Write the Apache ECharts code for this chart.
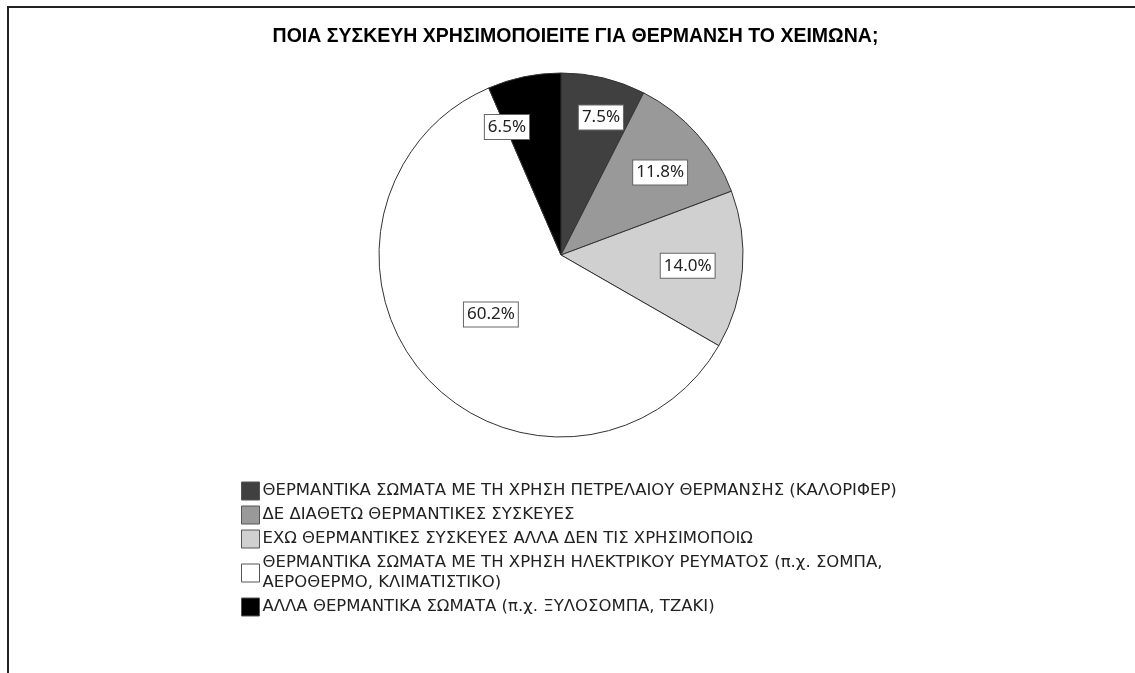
<!DOCTYPE html>
<html>
<head>
<meta charset="utf-8">
<script src="https://cdn.jsdelivr.net/npm/echarts@6/dist/echarts.min.js"></script>
<style>html,body{margin:0;padding:0;background:#fff;}#chart{width:1135px;height:673px;}</style>
</head>
<body>
<div id="chart"></div>
<script>
var titleText = 'ΠΟΙΑ ΣΥΣΚΕΥΗ ΧΡΗΣΙΜΟΠΟΙΕΙΤΕ ΓΙΑ ΘΕΡΜΑΝΣΗ ΤΟ ΧΕΙΜΩΝΑ;';
var categories = [
  'ΘΕΡΜΑΝΤΙΚΑ ΣΩΜΑΤΑ ΜΕ ΤΗ ΧΡΗΣΗ ΠΕΤΡΕΛΑΙΟΥ ΘΕΡΜΑΝΣΗΣ (ΚΑΛΟΡΙΦΕΡ)',
  'ΔΕ ΔΙΑΘΕΤΩ ΘΕΡΜΑΝΤΙΚΕΣ ΣΥΣΚΕΥΕΣ',
  'ΕΧΩ ΘΕΡΜΑΝΤΙΚΕΣ ΣΥΣΚΕΥΕΣ ΑΛΛΑ ΔΕΝ ΤΙΣ ΧΡΗΣΙΜΟΠΟΙΩ',
  'ΘΕΡΜΑΝΤΙΚΑ ΣΩΜΑΤΑ ΜΕ ΤΗ ΧΡΗΣΗ ΗΛΕΚΤΡΙΚΟΥ ΡΕΥΜΑΤΟΣ (π.χ. ΣΟΜΠΑ,\nΑΕΡΟΘΕΡΜΟ, ΚΛΙΜΑΤΙΣΤΙΚΟ)',
  'ΑΛΛΑ ΘΕΡΜΑΝΤΙΚΑ ΣΩΜΑΤΑ (π.χ. ΞΥΛΟΣΟΜΠΑ, ΤΖΑΚΙ)'
];
var values = [7.5, 11.8, 14.0, 60.2, 6.5];

// styles (kept separate from data)
var colors = ['#404040', '#999999', '#d0d0d0', '#ffffff', '#000000'];
var labelOffsets = [[18, -46], [29, -20], [33, 3], [0, -3], [-35, -36]];

var chart = echarts.init(document.getElementById('chart'), null, {renderer: 'canvas'});
var seriesData = categories.map(function (c, i) {
  return {
    name: c,
    value: values[i],
    itemStyle: {color: colors[i]},
    label: {offset: labelOffsets[i]}
  };
});
chart.setOption({
  animation: false,
  backgroundColor: '#ffffff',
  legend: {
    orient: 'vertical',
    left: 241,
    top: 481,
    padding: 0,
    itemWidth: 18,
    itemHeight: 18,
    itemGap: 4,
    icon: 'rect',
    data: categories,
    itemStyle: {borderColor: '#555', borderWidth: 1},
    textStyle: {fontFamily: 'DejaVu Sans', fontSize: 16.5, color: '#222', lineHeight: 20, padding: [0,0,0,-2]},
    selectedMode: false
  },
  graphic: [
    {type: 'line', shape: {x1: 8, y1: 7, x2: 8, y2: 673}, style: {stroke: '#222', lineWidth: 2}, silent: true},
    {type: 'line', shape: {x1: 7, y1: 7, x2: 1135, y2: 7}, style: {stroke: '#222', lineWidth: 2}, silent: true},
    {type: 'text', x: 575.5, y: 36.5, silent: true,
      style: {text: titleText, fontFamily: 'Liberation Sans', fontSize: 19.5, fontWeight: 'bold',
        fill: '#000', textAlign: 'center', textVerticalAlign: 'middle'}}
  ],
  series: [{
    type: 'pie',
    center: [561, 255],
    radius: [0, 182],
    startAngle: 90,
    clockwise: true,
    avoidLabelOverlap: false,
    data: seriesData,
    itemStyle: {borderColor: '#333', borderWidth: 1},
    label: {
      show: true,
      position: 'inside',
      formatter: function (p) { return p.value.toFixed(1) + '%'; },
      fontFamily: 'Noto Sans',
      fontSize: 17,
      color: '#222',
      backgroundColor: '#fff',
      borderColor: '#666',
      borderWidth: 1,
      padding: [4, 3, 3, 3]
    },
    labelLine: {show: false},
    emphasis: {disabled: true}
  }]
});
</script>
</body>
</html>
